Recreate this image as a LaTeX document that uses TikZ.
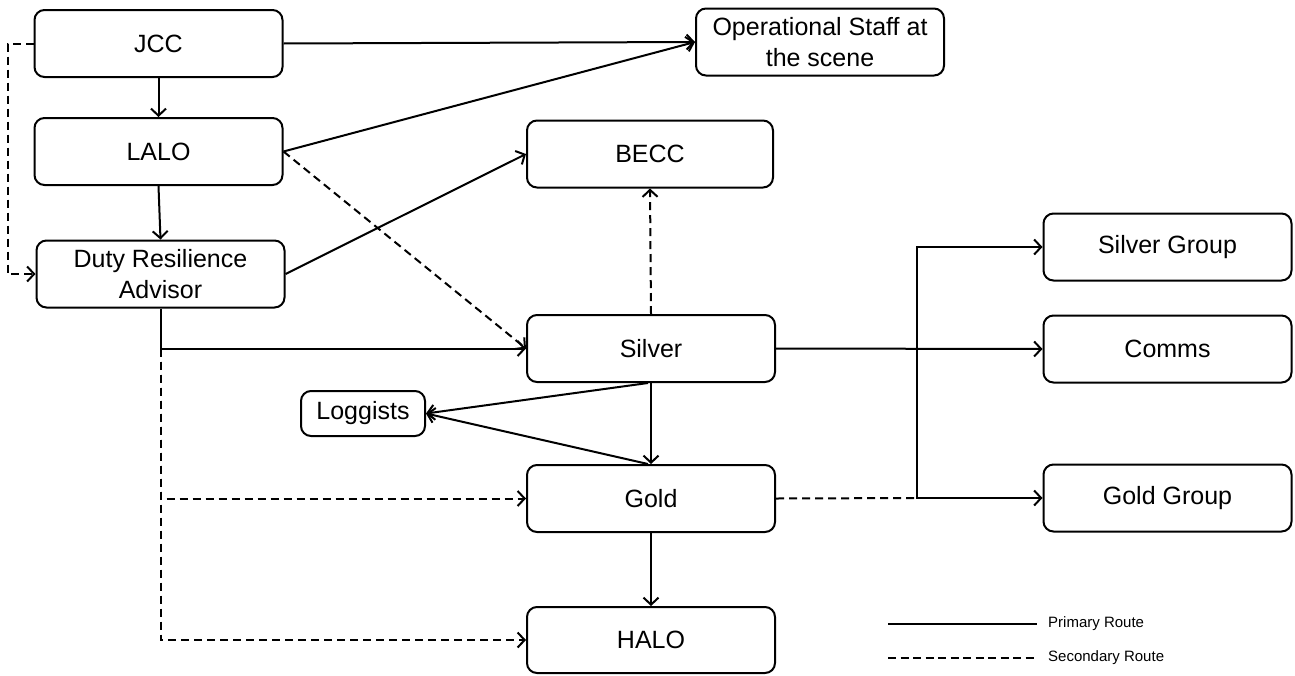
\documentclass[tikz,border=0pt]{standalone}
\usepackage{fontspec}
\setmainfont{Liberation Sans}
\usetikzlibrary{arrows.meta}
\begin{document}
\begin{tikzpicture}[x=1pt,y=-1pt,
  box/.style={draw, line width=2pt, rounded corners=10pt, align=center, inner sep=0pt,
    font=\fontsize{25}{31}\selectfont},
  bigbox/.style={box, minimum width=248pt, minimum height=67pt},
  conn/.style={line width=2pt, -{Straight Barb[length=7pt,width=15pt]}},
  dsh/.style={dash pattern=on 8pt off 5pt},
  legtext/.style={anchor=west, inner sep=0pt, font=\fontsize{15}{17}\selectfont}]
\useasboundingbox (0,0) rectangle (1295,675);
% nodes
\node[bigbox] (jcc) at (158.5,43.5) {JCC};
\node[bigbox] (lalo) at (158.5,151.5) {LALO};
\node[bigbox] (dra) at (160.5,274) {Duty Resilience\\Advisor};
\node[bigbox] (ops) at (820,42) {Operational Staff at\\the scene};
\node[bigbox, minimum width=246pt] (becc) at (650,154) {BECC};
\node[bigbox] (silver) at (651,348.5) {Silver};
\node[box, minimum width=124pt, minimum height=45pt] (log) at (363,413.5) {Loggists};
\node[bigbox] (gold) at (651,498.5) {Gold};
\node[bigbox, minimum height=66pt] (halo) at (651,640) {HALO};
\node[bigbox] (sg) at (1167.5,247) {Silver Group};
\node[bigbox] (comms) at (1167.5,349) {Comms};
\node[bigbox] (gg) at (1167.5,498) {Gold Group};
% connectors
\draw[conn] (jcc.south) -- (lalo.north);
\draw[conn] (lalo.south) -- (dra.north);
\draw[conn] (jcc.east) -- (ops.west);
\draw[conn] (lalo.east) -- (ops.west);
\draw[conn, dsh] (lalo.east) -- (silver.west);
\draw[conn] (dra.east) -- (becc.west);
\draw[conn, dsh] (silver.north) -- (becc.south);
\draw[conn] (dra.south) |- (silver.west);
\coordinate (dj) at (dra.south |- silver.west);
\draw[conn, dsh] (dj) |- (gold.west);
\draw[conn, dsh] (dj) |- (halo.west);
\draw[conn, dsh] (jcc.west) -- ++(-26,0) |- (dra.west);
\draw[conn] ([xshift=-3pt]silver.south) -- (log.east);
\draw[conn] ([xshift=-3pt]gold.north) -- (log.east);
\draw[conn] (silver.south) -- (gold.north);
\draw[conn] (gold.south) -- (halo.north);
\draw[conn] (silver.east) -- (comms.west);
\coordinate (bx) at (917,349);
\draw[conn] (bx) |- (sg.west);
\draw[conn] (bx) |- (gg.west);
\draw[line width=2pt, dsh] (gold.east) -- (bx |- gg.west);
% legend
\node[legtext] (lp) at (1048,624) {Primary Route};
\node[legtext] (ls) at (1048,658) {Secondary Route};
\coordinate (lpa) at (888,624);
\coordinate (lsa) at (888,658);
\draw[line width=2.6pt] (lpa) -- ([xshift=-11pt]lp.west);
\draw[line width=2.2pt, dash pattern=on 8pt off 4.5pt] (lsa) -- ([xshift=-11pt]ls.west);
\end{tikzpicture}
\end{document}
